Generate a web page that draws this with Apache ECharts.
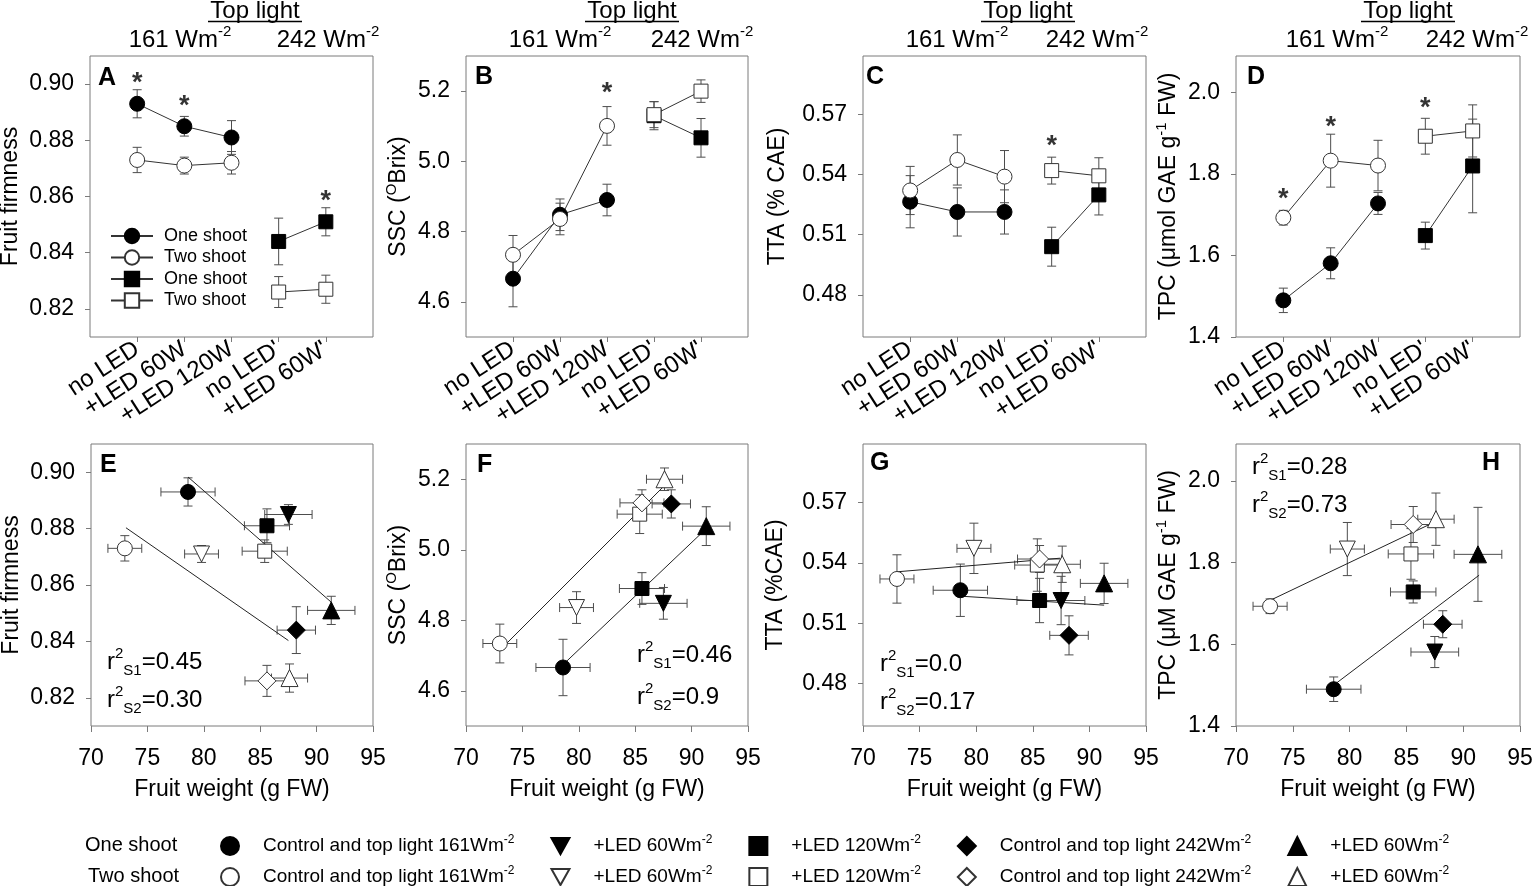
<!DOCTYPE html>
<html>
<head>
<meta charset="UTF-8">
<title>fruit quality</title>
<style>
  html, body { margin: 0; padding: 0; background: #fff; }
  #chart { width: 1535px; height: 886px; }
</style>
<script src="https://cdn.jsdelivr.net/npm/echarts@6/dist/echarts.min.js"></script>
</head>
<body>
<div id="chart"></div>
<script>
// treatments on the top row (empty slots pad both ends of the axis)
var treatments = ['', 'no LED', '+LED 60W', '+LED 120W', "no LED'", "+LED 60W'", ''];

// order in every array: control 161, +LED 60W, +LED 120W, control 242, +LED 60W (242)
var firmOne = [0.893, 0.885, 0.881, 0.844, 0.851];
var firmOneErr = [0.005, 0.0035, 0.006, 0.0083, 0.005];
var firmTwo = [0.873, 0.871, 0.872, 0.826, 0.827];
var firmTwoErr = [0.0045, 0.003, 0.004, 0.0055, 0.005];

var sscOne = [4.666, 4.848, 4.89, 5.13, 5.067];
var sscOneErr = [0.08, 0.045, 0.045, 0.04, 0.055];
var sscTwo = [4.734, 4.836, 5.101, 5.133, 5.2];
var sscTwoErr = [0.055, 0.045, 0.055, 0.037, 0.032];

var ttaOne = [0.5264, 0.5213, 0.5213, 0.504, 0.5298];
var ttaOneErr = [0.013, 0.012, 0.011, 0.0097, 0.010];
var ttaTwo = [0.532, 0.5472, 0.5389, 0.5419, 0.5393];
var ttaTwoErr = [0.012, 0.0125, 0.013, 0.0067, 0.009];

var tpcOne = [1.49, 1.581, 1.728, 1.649, 1.82];
var tpcOneErr = [0.03, 0.038, 0.027, 0.033, 0.115];
var tpcTwo = [1.693, 1.833, 1.821, 1.893, 1.906];
var tpcTwoErr = [0.018, 0.065, 0.062, 0.044, 0.064];

// fruit weight (g FW)
var weightOne = [78.6, 87.5, 85.6, 88.2, 91.3];
var weightOneErr = [2.4, 2.1, 2.0, 1.7, 2.1];
var weightTwo = [73.0, 79.8, 85.4, 85.6, 87.6];
var weightTwoErr = [1.5, 1.5, 2.0, 1.95, 1.6];

// significance stars [treatment index, value]
var starsFirm = [[1, 0.9025], [2, 0.894], [5, 0.8604]];
var starsSsc = [[3, 5.209]];
var starsTta = [[4, 0.5567]];
var starsTpc = [[1, 1.7525], [2, 1.929], [4, 1.975]];

// regression lines
var fitFirmOne = [[78.6, 0.8983], [91.3, 0.8539]];
var fitFirmTwo = [[73.1, 0.8803], [87.5, 0.8403]];
var fitSscOne = [[78.7, 4.677], [91.4, 5.063]];
var fitSscTwo = [[73.0, 4.715], [87.5, 5.179]];
var fitTtaOne = [[78.5, 0.5235], [91.3, 0.519]];
var fitTtaTwo = [[73.1, 0.5356], [87.4, 0.5423]];
var fitTpcOne = [[78.6, 1.50], [91.4, 1.769]];
var fitTpcTwo = [[73.2, 1.71], [87.4, 1.898]];

var r2One = ['0.45', '0.46', '0.0', '0.28'];
var r2Two = ['0.30', '0.9', '0.17', '0.73'];

var legendText = ['Control and top light 161Wm', '+LED 60Wm', '+LED 120Wm', 'Control and top light 242Wm', '+LED 60Wm'];

var FONT = '"Liberation Sans", Arial, sans-serif';
var INV_TRI = 'path://M0,0 L10,0 L5,9 Z';
var markSymbols = ['circle', INV_TRI, 'rect', 'diamond', 'triangle'];
var markSizes = [15, 16, 14, 18, 17];

var panels = [
  {one: firmOne, oneErr: firmOneErr, two: firmTwo, twoErr: firmTwoErr, stars: starsFirm,
   fitOne: fitFirmOne, fitTwo: fitFirmTwo, digits: 2,
   scale: {min: 0.81, max: 0.91, splitNumber: 5}, showMin: false,
   nameTop: 'Fruit firmness', nameBottom: 'Fruit firmness', gapTop: 62, gapBottom: 62},
  {one: sscOne, oneErr: sscOneErr, two: sscTwo, twoErr: sscTwoErr, stars: starsSsc,
   fitOne: fitSscOne, fitTwo: fitSscTwo, digits: 1,
   scale: {min: 4.5, max: 5.3, splitNumber: 4}, showMin: false,
   nameTop: 'SSC ({s|O}Brix)', nameBottom: 'SSC ({s|O}Brix)', gapTop: 49, gapBottom: 51},
  {one: ttaOne, oneErr: ttaOneErr, two: ttaTwo, twoErr: ttaTwoErr, stars: starsTta,
   fitOne: fitTtaOne, fitTwo: fitTtaTwo, digits: 2,
   scale: {min: 0.459, max: 0.599, splitNumber: 5}, showMin: false,
   nameTop: 'TTA (% CAE)', nameBottom: 'TTA (%CAE)', gapTop: 70, gapBottom: 72},
  {one: tpcOne, oneErr: tpcOneErr, two: tpcTwo, twoErr: tpcTwoErr, stars: starsTpc,
   fitOne: fitTpcOne, fitTwo: fitTpcTwo, digits: 1,
   scale: {min: 1.4, max: 2.09, interval: 0.2}, showMin: true,
   nameTop: 'TPC (μmol GAE g{s|-1} FW)', nameBottom: 'TPC (μM GAE g{s|-1} FW)', gapTop: 47, gapBottom: 49}
];

var boxes = [
  [90, 56, 283, 281], [466, 56, 282, 281], [863, 56, 283, 281], [1236, 56, 284, 281],
  [91, 444, 282, 282], [466, 444, 282, 282], [863, 444, 283, 282], [1236, 444, 284, 282]
];

function renderErr(params, api) {
  var x = api.value(0), y = api.value(1), ex = api.value(2), ey = api.value(3);
  var kids = [];
  var c = 4.5;
  function seg(x1, y1, x2, y2) {
    kids.push({type: 'line', shape: {x1: x1, y1: y1, x2: x2, y2: y2},
      style: {stroke: '#4d4d4d', lineWidth: 1}});
  }
  if (ey > 0) {
    var a = api.coord([x, y - ey]), b = api.coord([x, y + ey]);
    seg(a[0], a[1], b[0], b[1]);
    seg(a[0] - c, a[1], a[0] + c, a[1]);
    seg(b[0] - c, b[1], b[0] + c, b[1]);
  }
  if (ex > 0) {
    var l = api.coord([x - ex, y]), r = api.coord([x + ex, y]);
    seg(l[0], l[1], r[0], r[1]);
    seg(l[0], l[1] - c, l[0], l[1] + c);
    seg(r[0], r[1] - c, r[0], r[1] + c);
  }
  return {type: 'group', children: kids};
}

var grids = [], xAxes = [], yAxes = [], series = [];
var axisGray = '#7a7a7a';

boxes.forEach(function (b) {
  grids.push({left: b[0], top: b[1], width: b[2], height: b[3], show: true,
    borderColor: axisGray, borderWidth: 1, backgroundColor: 'transparent',
    containLabel: false, outerBoundsMode: 'none'});
});

// y axes, one per grid (index = grid index)
panels.forEach(function (p, i) {
  [0, 1].forEach(function (row) {
    var gi = row * 4 + i;
    var y = {
      type: 'value', gridIndex: gi,
      name: row ? p.nameBottom : p.nameTop, nameLocation: 'middle',
      nameGap: row ? p.gapBottom : p.gapTop,
      nameTextStyle: {fontSize: 23, color: '#000', lineHeight: 30,
        rich: {s: {fontSize: 15, lineHeight: 15, verticalAlign: 'top', color: '#000'}}},
      axisLine: {show: false},
      axisTick: {show: true, length: 5, lineStyle: {color: axisGray}},
      axisLabel: {fontSize: 23, color: '#000', margin: 16,
        showMinLabel: p.showMin, showMaxLabel: false,
        formatter: (function (d) { return function (v) { return v.toFixed(d); }; })(p.digits)},
      splitLine: {show: false}
    };
    for (var k in p.scale) y[k] = p.scale[k];
    yAxes[gi] = y;
  });
});

// x axes: top row categorical, bottom row fruit weight
for (var gi = 0; gi < 8; gi++) {
  if (gi < 4) {
    xAxes.push({type: 'category', gridIndex: gi, data: treatments, boundaryGap: false,
      axisLine: {show: false},
      axisTick: {length: 5, lineStyle: {color: axisGray},
        interval: function (idx, val) { return val !== ''; }},
      axisLabel: {interval: 0, rotate: 33, fontSize: 24, color: '#000', margin: 10},
      splitLine: {show: false}});
  } else {
    xAxes.push({type: 'value', gridIndex: gi, min: 70, max: 95, interval: 5,
      name: 'Fruit weight (g FW)', nameLocation: 'middle', nameGap: 52,
      nameTextStyle: {fontSize: 23, color: '#000'},
      axisLine: {show: false},
      axisTick: {length: 6, lineStyle: {color: axisGray}},
      axisLabel: {fontSize: 23, color: '#000', margin: 21},
      splitLine: {show: false}});
  }
}

function pointStyle(filled) {
  return filled ? {color: '#000', borderColor: '#000', borderWidth: 1, opacity: 1}
                : {color: '#fff', borderColor: '#333', borderWidth: 1, opacity: 1};
}

panels.forEach(function (p, i) {
  // top row: means by treatment
  var errData = [];
  for (var k = 0; k < 5; k++) {
    errData.push([k + 1, p.one[k], 0, p.oneErr[k]]);
    errData.push([k + 1, p.two[k], 0, p.twoErr[k]]);
  }
  series.push({type: 'custom', xAxisIndex: i, yAxisIndex: i, z: 1, silent: true,
    renderItem: renderErr, encode: {x: 0, y: 1}, data: errData});

  var groups = [
    {name: 'One shoot', vals: p.one, from: 0, to: 3, sym: 'circle', size: 15, filled: true},
    {name: 'One shoot ', vals: p.one, from: 3, to: 5, sym: 'rect', size: 14, filled: true},
    {name: 'Two shoot', vals: p.two, from: 0, to: 3, sym: 'circle', size: 15, filled: false},
    {name: 'Two shoot ', vals: p.two, from: 3, to: 5, sym: 'rect', size: 14, filled: false}
  ];
  groups.forEach(function (g) {
    var d = [];
    for (var k = g.from; k < g.to; k++) d.push([k + 1, g.vals[k]]);
    series.push({type: 'line', name: g.name, xAxisIndex: i, yAxisIndex: i, z: 3,
      data: d, symbol: g.sym, symbolSize: g.size, showSymbol: true,
      lineStyle: {color: '#333', width: 1}, itemStyle: pointStyle(g.filled),
      emphasis: {disabled: true}, silent: true});
  });

  series.push({type: 'scatter', xAxisIndex: i, yAxisIndex: i, z: 5, data: p.stars,
    symbolSize: 1, itemStyle: {color: 'rgba(0,0,0,0)'}, silent: true,
    label: {show: true, position: 'inside', formatter: '*', fontSize: 27,
      fontWeight: 'bold', color: '#000', offset: [0, 6]}});

  // bottom row: value against fruit weight
  var gb = i + 4;
  var errB = [];
  for (var k2 = 0; k2 < 5; k2++) {
    errB.push([weightOne[k2], p.one[k2], weightOneErr[k2], p.oneErr[k2]]);
    errB.push([weightTwo[k2], p.two[k2], weightTwoErr[k2], p.twoErr[k2]]);
  }
  series.push({type: 'custom', xAxisIndex: gb, yAxisIndex: gb, z: 1, silent: true,
    renderItem: renderErr, encode: {x: 0, y: 1}, data: errB});
  [p.fitOne, p.fitTwo].forEach(function (f) {
    series.push({type: 'line', xAxisIndex: gb, yAxisIndex: gb, z: 2, data: f,
      symbol: 'none', lineStyle: {color: '#222', width: 1}, silent: true});
  });
  for (var m = 0; m < 5; m++) {
    series.push({type: 'scatter', name: 'o' + m, xAxisIndex: gb, yAxisIndex: gb, z: 3,
      data: [[weightOne[m], p.one[m]]], symbol: markSymbols[m], symbolSize: markSizes[m],
      itemStyle: pointStyle(true), emphasis: {disabled: true}, silent: true});
    series.push({type: 'scatter', name: 't' + m, xAxisIndex: gb, yAxisIndex: gb, z: 3,
      data: [[weightTwo[m], p.two[m]]], symbol: markSymbols[m], symbolSize: markSizes[m],
      itemStyle: pointStyle(false), emphasis: {disabled: true}, silent: true});
  }
});

function bottomLegend(prefix, top) {
  return {
    data: [0, 1, 2, 3, 4].map(function (m) { return prefix + m; }),
    left: 220, top: top, orient: 'horizontal', padding: 0,
    itemWidth: 18, itemHeight: 18, itemGap: 36, selectedMode: false,
    itemStyle: {opacity: 1},
    formatter: function (name) { return legendText[+name.slice(1)] + '{s|-2}'; },
    textStyle: {fontSize: 19, color: '#000', padding: [0, 0, 0, 19], lineHeight: 24,
      rich: {s: {fontSize: 12, lineHeight: 12, verticalAlign: 'top', color: '#000'}}}
  };
}

var legends = [
  {data: ['One shoot', 'Two shoot', 'One shoot ', 'Two shoot '], orient: 'vertical',
   left: 110, top: 227, padding: 0, itemWidth: 42, itemHeight: 18, itemGap: 3.5,
   selectedMode: false, textStyle: {fontSize: 18, color: '#000', padding: [0, 0, 0, 6]}},
  bottomLegend('o', 834),
  bottomLegend('t', 865)
];

// texts placed on the page
var gfx = [];
function txt(x, y, text, size, opts) {
  var st = {x: x, y: y, text: text, fontSize: size, fontFamily: FONT, fill: '#000',
    align: 'left', verticalAlign: 'middle', textAlign: 'left', textVerticalAlign: 'middle'};
  for (var k in (opts || {})) st[k] = opts[k];
  gfx.push({type: 'text', style: st, silent: true});
}
var supStyle = {fontSize: 15, lineHeight: 15, verticalAlign: 'top', fontFamily: FONT, fill: '#000'};
var subStyle = {fontSize: 15, lineHeight: 15, verticalAlign: 'bottom', fontFamily: FONT, fill: '#000'};
var headers = [[255, 180, 328], [632, 560, 702], [1028, 957, 1097], [1408, 1337, 1477]];
headers.forEach(function (h) {
  txt(h[0], 11, 'Top light', 24, {align: 'center', textAlign: 'center'});
  gfx.push({type: 'line', shape: {x1: h[0] - 47, y1: 21.5, x2: h[0] + 47, y2: 21.5},
    style: {stroke: '#000', lineWidth: 1.3}, silent: true});
  [[h[1], '161'], [h[2], '242']].forEach(function (q) {
    txt(q[0], 40, q[1] + ' Wm{s|-2}', 24, {align: 'center', textAlign: 'center', lineHeight: 32,
      rich: {s: supStyle}});
  });
});

var letters = [['A', 98, 78], ['B', 475, 77], ['C', 866, 77], ['D', 1247, 77],
               ['E', 100, 465], ['F', 477, 465], ['G', 870, 463], ['H', 1482, 463]];
letters.forEach(function (l) {
  txt(l[1], l[2], l[0], 25, {fontWeight: 'bold'});
});

var r2Pos = [[107, 662, 700], [637, 655, 697], [880, 664, 702], [1252, 467, 505]];
r2Pos.forEach(function (pos, i) {
  var rich = {p: supStyle, b: subStyle};
  txt(pos[0], pos[1], 'r{p|2}{b|S1}=' + r2One[i], 24, {lineHeight: 32, rich: rich});
  txt(pos[0], pos[2], 'r{p|2}{b|S2}=' + r2Two[i], 24, {lineHeight: 32, rich: rich});
});

txt(85, 845, 'One shoot', 20);
txt(88, 876, 'Two shoot', 20);

var myChart = echarts.init(document.getElementById('chart'));
myChart.setOption({
  animation: false,
  textStyle: {fontFamily: FONT, color: '#000'},
  grid: grids,
  xAxis: xAxes,
  yAxis: yAxes,
  legend: legends,
  graphic: {elements: gfx},
  series: series
});
</script>
</body>
</html>
